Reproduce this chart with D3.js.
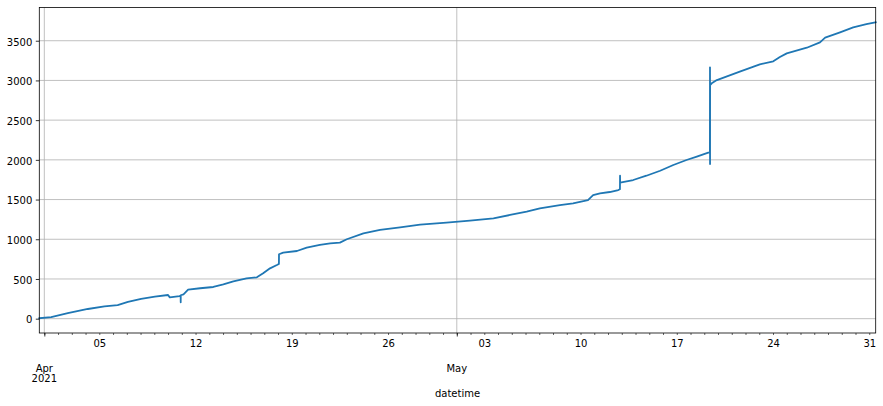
<!DOCTYPE html>
<html><head><meta charset="utf-8">
<script src="https://cdn.jsdelivr.net/npm/d3@7"></script>
<style>body{margin:0;background:#fff} text{font-family:"DejaVu Sans",sans-serif;font-size:10px;fill:#000}</style>
</head><body><svg id="c" width="883" height="406"></svg>
<script>
const times = [
"2021-03-31T15:15","2021-04-01T12:00","2021-04-02T17:00","2021-04-04T04:00","2021-04-05T09:00",
"2021-04-06T08:00","2021-04-07T02:00","2021-04-08T01:00","2021-04-09T01:00","2021-04-10T00:00",
"2021-04-10T03:00","2021-04-10T20:00","2021-04-10T22:00","2021-04-10T22:05","2021-04-10T22:10",
"2021-04-11T03:00","2021-04-11T11:00","2021-04-12T08:00","2021-04-13T07:00","2021-04-14T00:30",
"2021-04-14T18:00","2021-04-15T17:00","2021-04-16T11:00","2021-04-16T22:00","2021-04-17T10:00",
"2021-04-17T22:00","2021-04-18T01:30","2021-04-18T01:40","2021-04-18T09:00","2021-04-19T09:00",
"2021-04-20T02:00","2021-04-21T01:00","2021-04-21T19:00","2021-04-22T12:00","2021-04-23T00:00",
"2021-04-24T05:00","2021-04-25T10:00","2021-04-26T21:00","2021-04-28T08:00","2021-04-30T06:00",
"2021-05-01T23:00","2021-05-03T16:00","2021-05-04T21:00","2021-05-06T02:00","2021-05-07T01:00",
"2021-05-08T12:00","2021-05-09T11:00","2021-05-10T13:00","2021-05-10T22:00","2021-05-11T10:00",
"2021-05-12T03:00","2021-05-12T18:00","2021-05-12T20:50","2021-05-12T21:00","2021-05-12T21:05",
"2021-05-13T20:00","2021-05-14T19:00","2021-05-15T19:00","2021-05-16T18:00","2021-05-17T17:00",
"2021-05-18T11:00","2021-05-19T07:00","2021-05-19T09:50","2021-05-19T10:00","2021-05-19T10:05",
"2021-05-19T10:10","2021-05-19T13:00","2021-05-19T22:00","2021-05-21T14:00","2021-05-23T01:00",
"2021-05-24T00:30","2021-05-24T12:00","2021-05-25T00:00","2021-05-26T11:00","2021-05-27T10:00","2021-05-27T19:00",
"2021-05-28T21:00","2021-05-29T20:00","2021-05-30T19:00","2021-05-31T11:15"
];
const values = [
6,20,70,122,155,
172,212,250,277,298,
268,285,290,206,295,
307,365,383,399,433,
471,508,521,571,634,
676,689,811,831,852,
894,928,949,957,1000,
1075,1117,1151,1184,1209,
1234,1264,1306,1347,1390,
1431,1453,1494,1557,1579,
1595,1620,1630,1800,1712,
1746,1800,1863,1935,1998,
2040,2090,2095,3165,1948,
2940,2963,3005,3110,3203,
3240,3295,3341,3412,3480,3538,
3606,3669,3710,3732
];
const yTicks = [0,500,1000,1500,2000,2500,3000,3500];
const dayTickRange = ["2021-04-01","2021-05-31"];
const weekTicks = ["2021-04-05","2021-04-12","2021-04-19","2021-04-26","2021-05-03","2021-05-10","2021-05-17","2021-05-24","2021-05-31"];
const weekLabels = ["05","12","19","26","03","10","17","24","31"];
const monthTicks = ["2021-04-01","2021-05-01"];
const monthLabels = [["Apr","2021"],["May"]];
const xLabel = "datetime";

const pT = d3.utcParse("%Y-%m-%dT%H:%M"), pD = d3.utcParse("%Y-%m-%d");
const data = times.map((t,i)=>({t:pT(t), v:values[i]}));
const L=39.3, R=875.7, T=7.5, B=333;
const svg = d3.select("#c");
const x = d3.scaleUtc().domain(d3.extent(data,d=>d.t)).range([L,R]);
const [vmin,vmax] = d3.extent(data,d=>d.v);
const pad = (vmax-vmin)*0.05;
const y = d3.scaleLinear().domain([vmin-pad, vmax+pad]).range([B,T]);

// grid
const g = svg.append("g");
g.selectAll("line.gy").data(yTicks).join("line")
 .attr("x1",L).attr("x2",R).attr("y1",d=>y(d)).attr("y2",d=>y(d))
 .attr("stroke","#b0b0b0").attr("stroke-width",0.8);
g.selectAll("line.gx").data(monthTicks.map(pD)).join("line")
 .attr("x1",d=>x(d)).attr("x2",d=>x(d)).attr("y1",T).attr("y2",B)
 .attr("stroke","#b0b0b0").attr("stroke-width",0.8);

// line
svg.append("path").datum(data)
 .attr("d", d3.line().x(d=>x(d.t)).y(d=>y(d.v)))
 .attr("fill","none").attr("stroke","#1f77b4").attr("stroke-width",1.8)
 .attr("stroke-linejoin","round").attr("stroke-linecap","square");

// y axis
const ya = svg.append("g").attr("transform",`translate(${L},0)`)
 .call(d3.axisLeft(y).tickValues(yTicks).tickSize(3.5).tickPadding(3.5).tickFormat(d3.format("d")));
ya.select(".domain").remove();
ya.selectAll("line").attr("stroke","#000").attr("stroke-width",0.8);
ya.selectAll("text").attr("dy","0.43em").style("font-family","DejaVu Sans").style("font-size","10px").attr("fill","#000");

// x minor day ticks
const days = d3.utcDay.range(pD(dayTickRange[0]), d3.utcDay.offset(pD(dayTickRange[1]),1));
const xm = svg.append("g").attr("transform",`translate(0,${B})`)
 .call(d3.axisBottom(x).tickValues(days).tickSize(2).tickFormat(""));
xm.select(".domain").remove();
xm.selectAll("line").attr("stroke","#000").attr("stroke-width",0.6);

// week labels
const wk = svg.append("g").attr("transform",`translate(0,${B})`)
 .call(d3.axisBottom(x).tickValues(weekTicks.map(pD)).tickSize(0).tickPadding(7)
   .tickFormat((d,i)=>weekLabels[i]));
wk.select(".domain").remove();
wk.selectAll("text").style("font-family","DejaVu Sans").style("font-size","10px").attr("fill","#000");

// month major ticks
const mk = svg.append("g").attr("transform",`translate(0,${B})`)
 .call(d3.axisBottom(x).tickValues(monthTicks.map(pD)).tickSize(3.5).tickFormat(""));
mk.select(".domain").remove();
mk.selectAll("line").attr("stroke","#000").attr("stroke-width",0.8);
monthTicks.forEach((m,i)=>{
  const t = svg.append("text").attr("x",x(pD(m))).attr("y",371.6).attr("text-anchor","middle");
  monthLabels[i].forEach((s,j)=>{
    t.append("tspan").attr("x",x(pD(m))).attr("y",371.6+j*10.3).text(s);
  });
});

// spines
svg.append("rect").attr("x",L).attr("y",T).attr("width",R-L).attr("height",B-T)
 .attr("fill","none").attr("stroke","#000").attr("stroke-width",0.8);

svg.append("text").attr("x",(L+R)/2).attr("y",397).attr("text-anchor","middle").text(xLabel);
</script></body></html>
